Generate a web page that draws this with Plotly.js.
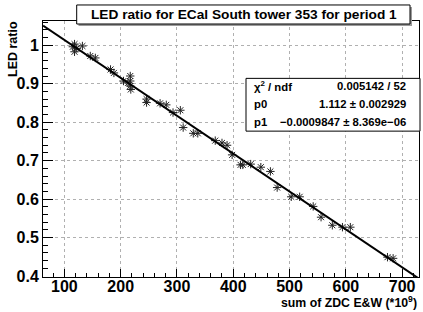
<!DOCTYPE html>
<html>
<head>
<meta charset="utf-8">
<script src="https://cdn.plot.ly/plotly-3.0.1.min.js"></script>
<style>html,body{margin:0;padding:0;background:#fff;}#chart{width:423px;height:312px;}</style>
</head>
<body>
<div id="chart"></div>
<script>
// Data
const zdcSum = [118, 118, 132, 115, 122, 146, 155, 182, 188, 205, 217, 217, 217, 218, 213,
  246, 246, 270, 281, 293, 306, 311, 329, 337, 368, 380, 389, 398, 413, 417, 431, 449,
  466, 478, 503, 518, 542, 556, 576, 594, 608, 674, 684];
const ledRatio = [1.003, 0.983, 0.998, 0.996, 0.992, 0.972, 0.967, 0.937, 0.928, 0.907, 0.920, 0.907, 0.894, 0.885, 0.902,
  0.860, 0.851, 0.849, 0.845, 0.825, 0.831, 0.786, 0.771, 0.771, 0.752, 0.746, 0.740, 0.715, 0.689, 0.689, 0.691, 0.683,
  0.672, 0.630, 0.606, 0.606, 0.581, 0.553, 0.532, 0.527, 0.527, 0.449, 0.446];
const fitP0 = 1.112, fitP1 = -0.0009847;
const fitRange = [62, 730];
const statLabels = ["\u03C7<sup>2</sup> / ndf", "p0", "p1"];
const statValues = ["0.005142 / 52", "1.112 \u00B1 0.002929", "\u22120.0009847 \u00B1 8.369e\u221206"];
const titleText = "LED ratio for ECal South tower 353 for period 1";
const xTitle = "sum of ZDC E&amp;W (*10<sup>9</sup>)";
const yTitle = "LED ratio";

const fitX = fitRange.slice();
const fitY = fitX.map(x => fitP0 + fitP1 * x);

const NF = "Liberation Sans Narrow, Arial Narrow, sans-serif";
const traces = [
  {x: zdcSum, y: ledRatio, mode: 'markers', type: 'scatter',
   marker: {symbol: 'asterisk-open', size: 7, color: '#222', line: {color: '#222', width: 1}},
   hoverinfo: 'skip', cliponaxis: true},
  {x: fitX, y: fitY, mode: 'lines', type: 'scatter',
   line: {color: '#000', width: 2}, hoverinfo: 'skip'}
];

const L = 43, T = 21, B = 276.7, R = 419;
const PW = R - L, PH = B - T;
const px = v => (v - L) / PW;
const py = v => (B - v) / PH;

const annotations = [
  {text: '<b>' + titleText + '</b>', xref: 'paper', yref: 'paper', x: px(243.5), y: py(14.5),
   xanchor: 'center', yanchor: 'middle', showarrow: false, font: {family: NF, size: 13.7, color: '#000'}},
  {text: '<b>' + yTitle + '</b>', xref: 'paper', yref: 'paper', x: px(13), y: py(19),
   xanchor: 'center', yanchor: 'top', textangle: -90, showarrow: false,
   font: {family: 'Liberation Sans, Arial, sans-serif', size: 12.5, color: '#000'}},
  {text: '<b>' + xTitle + '</b>', xref: 'paper', yref: 'paper', x: px(419), y: py(311.5),
   xanchor: 'right', yanchor: 'bottom', showarrow: false, font: {family: NF, size: 12.3, color: '#000'}}
];
const rowY = [85.7, 103.5, 121.5];
for (let i = 0; i < 3; i++) {
  annotations.push({text: '<b>' + statLabels[i] + '</b>', xref: 'paper', yref: 'paper', x: px(252), y: py(rowY[i]),
    xanchor: 'left', yanchor: 'middle', showarrow: false, font: {family: NF, size: 11.3, color: '#000'}});
  annotations.push({text: '<b>' + statValues[i] + '</b>', xref: 'paper', yref: 'paper', x: px(408), y: py(rowY[i]),
    xanchor: 'right', yanchor: 'middle', showarrow: false, font: {family: NF, size: 11.3, color: '#000'}});
}

const shapes = [
  {type: 'rect', xref: 'paper', yref: 'paper', x0: px(78.5), x1: px(412), y0: py(26), y1: py(7),
   line: {width: 0}, fillcolor: '#9a9a9a', layer: 'above'},
  {type: 'rect', xref: 'paper', yref: 'paper', x0: px(76.7), x1: px(410), y0: py(24), y1: py(5),
   line: {width: 1, color: '#000'}, fillcolor: '#fff', layer: 'above'},
  {type: 'rect', xref: 'paper', yref: 'paper', x0: px(246), x1: px(420), y0: py(131), y1: py(78.3),
   line: {width: 1, color: '#000'}, fillcolor: '#fff', layer: 'above'}
];

const axisCommon = {
  showline: true, linecolor: '#000', linewidth: 1, mirror: true,
  ticks: 'inside', tickcolor: '#000', tickwidth: 1,
  showgrid: true, gridcolor: '#b0b0b0', griddash: 'dot', gridwidth: 1,
  zeroline: false, tickfont: {family: NF, size: 16, color: '#000', weight: 'bold'}
};

const layout = {
  width: 423, height: 312,
  margin: {l: L, r: 423 - R, t: T, b: 312 - B, pad: 0},
  paper_bgcolor: '#fff', plot_bgcolor: '#fff',
  showlegend: false,
  xaxis: Object.assign({}, axisCommon, {range: [62, 730], tick0: 100, dtick: 100, ticklen: 8,
    ticklabelstandoff: -5,
    minor: {ticks: 'inside', dtick: 20, ticklen: 4, tickcolor: '#000', showgrid: false}}),
  yaxis: Object.assign({}, axisCommon, {range: [0.3975, 1.063], tick0: 0.4, dtick: 0.1, ticklen: 10,
    ticklabelstandoff: 0,
    minor: {ticks: 'inside', dtick: 0.02, ticklen: 5, tickcolor: '#000', showgrid: false}}),
  annotations: annotations,
  shapes: shapes
};

Plotly.newPlot('chart', traces, layout, {staticPlot: true, displayModeBar: false});
</script>
</body>
</html>
